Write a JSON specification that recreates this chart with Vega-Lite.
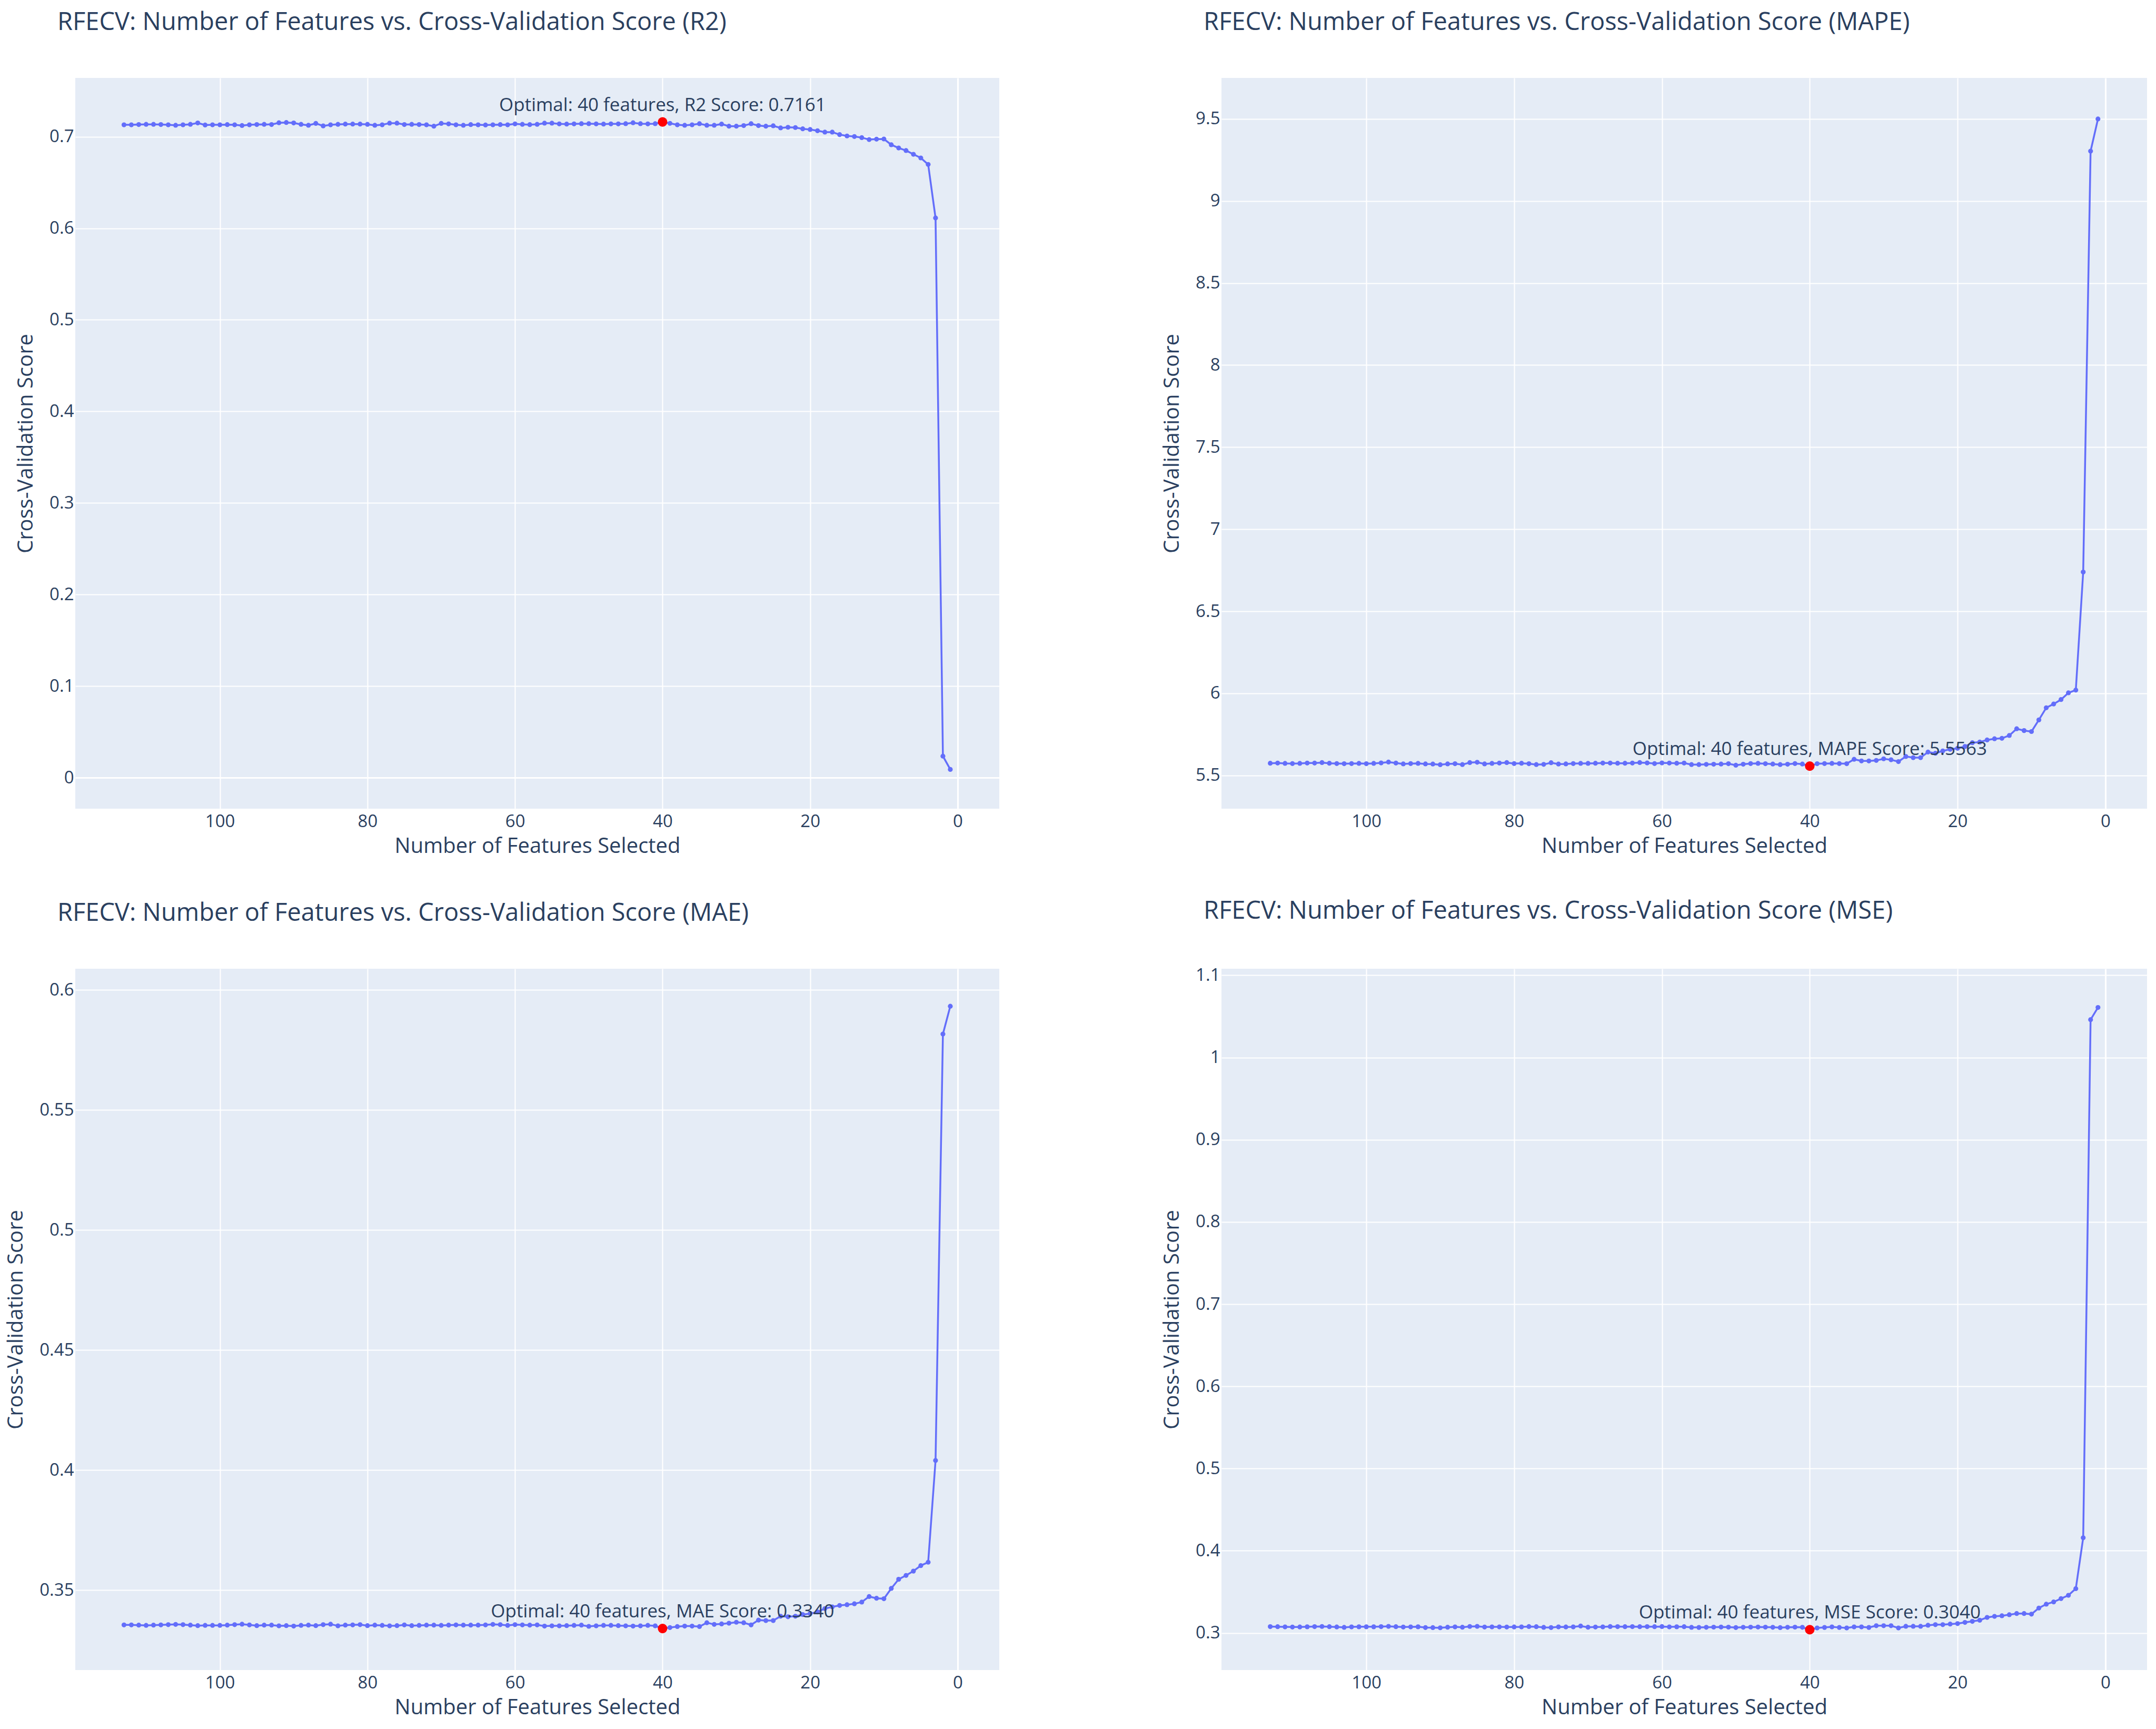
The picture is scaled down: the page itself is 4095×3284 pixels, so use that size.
{
"$schema": "https://vega.github.io/schema/vega-lite/v6.json",
"background": "white",
"padding": {"left": 10, "top": 19, "right": 5, "bottom": 20},
"bounds": "flush",
"columns": 2,
"spacing": {"row": 304, "column": 422},
"config": {
  "view": {"fill": "#E5ECF6", "stroke": null},
  "font": "Open Sans",
  "title": {"fontSize": 47, "fontWeight": "normal", "color": "#2a3f5f", "anchor": "start", "frame": "group", "baseline": "alphabetic", "offset": 81, "dx": -34, "font": "Open Sans"},
  "axis": {"domain": false, "ticks": false, "grid": true, "gridColor": "white", "gridWidth": {"condition": {"test": "datum.value === 0", "value": 3.2}, "value": 2.2}, "labelFontSize": 33, "labelColor": "#2a3f5f", "titleFontSize": 40, "titleColor": "#2a3f5f", "titleFontWeight": "normal", "labelFont": "Open Sans", "titleFont": "Open Sans"},
  "axisX": {"labelPadding": 8, "titlePadding": 10},
  "axisY": {"labelPadding": 3, "titlePadding": 24}
},
"datasets": {
"opt": [
 {"m":"R2","n":40,"s":0.7161,"label":"Optimal: 40 features, R2 Score: 0.7161"},
 {"m":"MAPE","n":40,"s":5.5563,"label":"Optimal: 40 features, MAPE Score: 5.5563"},
 {"m":"MAE","n":40,"s":0.3340,"label":"Optimal: 40 features, MAE Score: 0.3340"},
 {"m":"MSE","n":40,"s":0.3040,"label":"Optimal: 40 features, MSE Score: 0.3040"}
],
"rfecv": [
{"m":"R2","n":113,"s":0.7130},{"m":"R2","n":112,"s":0.7130},{"m":"R2","n":111,"s":0.7133},{"m":"R2","n":110,"s":0.7135},{"m":"R2","n":109,"s":0.7135},{"m":"R2","n":108,"s":0.7133},{"m":"R2","n":107,"s":0.7130},{"m":"R2","n":106,"s":0.7125},{"m":"R2","n":105,"s":0.7130},{"m":"R2","n":104,"s":0.7135},{"m":"R2","n":103,"s":0.7150},{"m":"R2","n":102,"s":0.7128},{"m":"R2","n":101,"s":0.7130},{"m":"R2","n":100,"s":0.7130},{"m":"R2","n":99,"s":0.7132},{"m":"R2","n":98,"s":0.7130},{"m":"R2","n":97,"s":0.7122},{"m":"R2","n":96,"s":0.7130},{"m":"R2","n":95,"s":0.7133},{"m":"R2","n":94,"s":0.7135},{"m":"R2","n":93,"s":0.7133},{"m":"R2","n":92,"s":0.7152},{"m":"R2","n":91,"s":0.7155},{"m":"R2","n":90,"s":0.7150},{"m":"R2","n":89,"s":0.7135},{"m":"R2","n":88,"s":0.7125},{"m":"R2","n":87,"s":0.7145},{"m":"R2","n":86,"s":0.7118},{"m":"R2","n":85,"s":0.7130},{"m":"R2","n":84,"s":0.7135},{"m":"R2","n":83,"s":0.7138},{"m":"R2","n":82,"s":0.7138},{"m":"R2","n":81,"s":0.7138},{"m":"R2","n":80,"s":0.7135},{"m":"R2","n":79,"s":0.7125},{"m":"R2","n":78,"s":0.7130},{"m":"R2","n":77,"s":0.7148},{"m":"R2","n":76,"s":0.7148},{"m":"R2","n":75,"s":0.7133},{"m":"R2","n":74,"s":0.7135},{"m":"R2","n":73,"s":0.7133},{"m":"R2","n":72,"s":0.7130},{"m":"R2","n":71,"s":0.7115},{"m":"R2","n":70,"s":0.7145},{"m":"R2","n":69,"s":0.7140},{"m":"R2","n":68,"s":0.7130},{"m":"R2","n":67,"s":0.7125},{"m":"R2","n":66,"s":0.7132},{"m":"R2","n":65,"s":0.7130},{"m":"R2","n":64,"s":0.7128},{"m":"R2","n":63,"s":0.7130},{"m":"R2","n":62,"s":0.7132},{"m":"R2","n":61,"s":0.7130},{"m":"R2","n":60,"s":0.7140},{"m":"R2","n":59,"s":0.7135},{"m":"R2","n":58,"s":0.7132},{"m":"R2","n":57,"s":0.7135},{"m":"R2","n":56,"s":0.7148},{"m":"R2","n":55,"s":0.7148},{"m":"R2","n":54,"s":0.7140},{"m":"R2","n":53,"s":0.7138},{"m":"R2","n":52,"s":0.7140},{"m":"R2","n":51,"s":0.7142},{"m":"R2","n":50,"s":0.7142},{"m":"R2","n":49,"s":0.7140},{"m":"R2","n":48,"s":0.7138},{"m":"R2","n":47,"s":0.7140},{"m":"R2","n":46,"s":0.7140},{"m":"R2","n":45,"s":0.7142},{"m":"R2","n":44,"s":0.7152},{"m":"R2","n":43,"s":0.7142},{"m":"R2","n":42,"s":0.7140},{"m":"R2","n":41,"s":0.7142},{"m":"R2","n":40,"s":0.7161},{"m":"R2","n":39,"s":0.7146},{"m":"R2","n":38,"s":0.7130},{"m":"R2","n":37,"s":0.7125},{"m":"R2","n":36,"s":0.7130},{"m":"R2","n":35,"s":0.7142},{"m":"R2","n":34,"s":0.7125},{"m":"R2","n":33,"s":0.7125},{"m":"R2","n":32,"s":0.7138},{"m":"R2","n":31,"s":0.7115},{"m":"R2","n":30,"s":0.7115},{"m":"R2","n":29,"s":0.7121},{"m":"R2","n":28,"s":0.7142},{"m":"R2","n":27,"s":0.7121},{"m":"R2","n":26,"s":0.7115},{"m":"R2","n":25,"s":0.7119},{"m":"R2","n":24,"s":0.7096},{"m":"R2","n":23,"s":0.7103},{"m":"R2","n":22,"s":0.7100},{"m":"R2","n":21,"s":0.7086},{"m":"R2","n":20,"s":0.7079},{"m":"R2","n":19,"s":0.7065},{"m":"R2","n":18,"s":0.7050},{"m":"R2","n":17,"s":0.7050},{"m":"R2","n":16,"s":0.7023},{"m":"R2","n":15,"s":0.7008},{"m":"R2","n":14,"s":0.7002},{"m":"R2","n":13,"s":0.6990},{"m":"R2","n":12,"s":0.6969},{"m":"R2","n":11,"s":0.6973},{"m":"R2","n":10,"s":0.6975},{"m":"R2","n":9,"s":0.6912},{"m":"R2","n":8,"s":0.6877},{"m":"R2","n":7,"s":0.6849},{"m":"R2","n":6,"s":0.6808},{"m":"R2","n":5,"s":0.6768},{"m":"R2","n":4,"s":0.6697},{"m":"R2","n":3,"s":0.6113},{"m":"R2","n":2,"s":0.0235},{"m":"R2","n":1,"s":0.0090},
{"m":"MAPE","n":113,"s":5.574},{"m":"MAPE","n":112,"s":5.575},{"m":"MAPE","n":111,"s":5.573},{"m":"MAPE","n":110,"s":5.572},{"m":"MAPE","n":109,"s":5.573},{"m":"MAPE","n":108,"s":5.575},{"m":"MAPE","n":107,"s":5.575},{"m":"MAPE","n":106,"s":5.578},{"m":"MAPE","n":105,"s":5.574},{"m":"MAPE","n":104,"s":5.572},{"m":"MAPE","n":103,"s":5.571},{"m":"MAPE","n":102,"s":5.572},{"m":"MAPE","n":101,"s":5.573},{"m":"MAPE","n":100,"s":5.571},{"m":"MAPE","n":99,"s":5.573},{"m":"MAPE","n":98,"s":5.576},{"m":"MAPE","n":97,"s":5.581},{"m":"MAPE","n":96,"s":5.575},{"m":"MAPE","n":95,"s":5.570},{"m":"MAPE","n":94,"s":5.572},{"m":"MAPE","n":93,"s":5.573},{"m":"MAPE","n":92,"s":5.570},{"m":"MAPE","n":91,"s":5.569},{"m":"MAPE","n":90,"s":5.565},{"m":"MAPE","n":89,"s":5.570},{"m":"MAPE","n":88,"s":5.571},{"m":"MAPE","n":87,"s":5.566},{"m":"MAPE","n":86,"s":5.578},{"m":"MAPE","n":85,"s":5.580},{"m":"MAPE","n":84,"s":5.570},{"m":"MAPE","n":83,"s":5.573},{"m":"MAPE","n":82,"s":5.575},{"m":"MAPE","n":81,"s":5.578},{"m":"MAPE","n":80,"s":5.572},{"m":"MAPE","n":79,"s":5.574},{"m":"MAPE","n":78,"s":5.571},{"m":"MAPE","n":77,"s":5.566},{"m":"MAPE","n":76,"s":5.567},{"m":"MAPE","n":75,"s":5.577},{"m":"MAPE","n":74,"s":5.569},{"m":"MAPE","n":73,"s":5.570},{"m":"MAPE","n":72,"s":5.572},{"m":"MAPE","n":71,"s":5.573},{"m":"MAPE","n":70,"s":5.573},{"m":"MAPE","n":69,"s":5.574},{"m":"MAPE","n":68,"s":5.575},{"m":"MAPE","n":67,"s":5.575},{"m":"MAPE","n":66,"s":5.574},{"m":"MAPE","n":65,"s":5.574},{"m":"MAPE","n":64,"s":5.575},{"m":"MAPE","n":63,"s":5.578},{"m":"MAPE","n":62,"s":5.576},{"m":"MAPE","n":61,"s":5.572},{"m":"MAPE","n":60,"s":5.576},{"m":"MAPE","n":59,"s":5.575},{"m":"MAPE","n":58,"s":5.574},{"m":"MAPE","n":57,"s":5.575},{"m":"MAPE","n":56,"s":5.566},{"m":"MAPE","n":55,"s":5.566},{"m":"MAPE","n":54,"s":5.567},{"m":"MAPE","n":53,"s":5.568},{"m":"MAPE","n":52,"s":5.569},{"m":"MAPE","n":51,"s":5.571},{"m":"MAPE","n":50,"s":5.562},{"m":"MAPE","n":49,"s":5.568},{"m":"MAPE","n":48,"s":5.572},{"m":"MAPE","n":47,"s":5.573},{"m":"MAPE","n":46,"s":5.571},{"m":"MAPE","n":45,"s":5.569},{"m":"MAPE","n":44,"s":5.566},{"m":"MAPE","n":43,"s":5.568},{"m":"MAPE","n":42,"s":5.572},{"m":"MAPE","n":41,"s":5.569},{"m":"MAPE","n":40,"s":5.5563},{"m":"MAPE","n":39,"s":5.571},{"m":"MAPE","n":38,"s":5.572},{"m":"MAPE","n":37,"s":5.573},{"m":"MAPE","n":36,"s":5.572},{"m":"MAPE","n":35,"s":5.571},{"m":"MAPE","n":34,"s":5.598},{"m":"MAPE","n":33,"s":5.588},{"m":"MAPE","n":32,"s":5.588},{"m":"MAPE","n":31,"s":5.591},{"m":"MAPE","n":30,"s":5.601},{"m":"MAPE","n":29,"s":5.595},{"m":"MAPE","n":28,"s":5.584},{"m":"MAPE","n":27,"s":5.615},{"m":"MAPE","n":26,"s":5.608},{"m":"MAPE","n":25,"s":5.608},{"m":"MAPE","n":24,"s":5.642},{"m":"MAPE","n":23,"s":5.635},{"m":"MAPE","n":22,"s":5.649},{"m":"MAPE","n":21,"s":5.659},{"m":"MAPE","n":20,"s":5.665},{"m":"MAPE","n":19,"s":5.676},{"m":"MAPE","n":18,"s":5.699},{"m":"MAPE","n":17,"s":5.703},{"m":"MAPE","n":16,"s":5.716},{"m":"MAPE","n":15,"s":5.723},{"m":"MAPE","n":14,"s":5.726},{"m":"MAPE","n":13,"s":5.743},{"m":"MAPE","n":12,"s":5.784},{"m":"MAPE","n":11,"s":5.773},{"m":"MAPE","n":10,"s":5.767},{"m":"MAPE","n":9,"s":5.838},{"m":"MAPE","n":8,"s":5.912},{"m":"MAPE","n":7,"s":5.935},{"m":"MAPE","n":6,"s":5.962},{"m":"MAPE","n":5,"s":6.003},{"m":"MAPE","n":4,"s":6.020},{"m":"MAPE","n":3,"s":6.739},{"m":"MAPE","n":2,"s":9.304},{"m":"MAPE","n":1,"s":9.500},
{"m":"MAE","n":113,"s":0.3355},{"m":"MAE","n":112,"s":0.3355},{"m":"MAE","n":111,"s":0.3354},{"m":"MAE","n":110,"s":0.3353},{"m":"MAE","n":109,"s":0.3354},{"m":"MAE","n":108,"s":0.3355},{"m":"MAE","n":107,"s":0.3356},{"m":"MAE","n":106,"s":0.3357},{"m":"MAE","n":105,"s":0.3356},{"m":"MAE","n":104,"s":0.3354},{"m":"MAE","n":103,"s":0.3352},{"m":"MAE","n":102,"s":0.3353},{"m":"MAE","n":101,"s":0.3353},{"m":"MAE","n":100,"s":0.3353},{"m":"MAE","n":99,"s":0.3354},{"m":"MAE","n":98,"s":0.3356},{"m":"MAE","n":97,"s":0.3358},{"m":"MAE","n":96,"s":0.3355},{"m":"MAE","n":95,"s":0.3352},{"m":"MAE","n":94,"s":0.3354},{"m":"MAE","n":93,"s":0.3354},{"m":"MAE","n":92,"s":0.3351},{"m":"MAE","n":91,"s":0.3352},{"m":"MAE","n":90,"s":0.3350},{"m":"MAE","n":89,"s":0.3353},{"m":"MAE","n":88,"s":0.3354},{"m":"MAE","n":87,"s":0.3352},{"m":"MAE","n":86,"s":0.3356},{"m":"MAE","n":85,"s":0.3358},{"m":"MAE","n":84,"s":0.3351},{"m":"MAE","n":83,"s":0.3354},{"m":"MAE","n":82,"s":0.3355},{"m":"MAE","n":81,"s":0.3356},{"m":"MAE","n":80,"s":0.3352},{"m":"MAE","n":79,"s":0.3354},{"m":"MAE","n":78,"s":0.3353},{"m":"MAE","n":77,"s":0.3351},{"m":"MAE","n":76,"s":0.3352},{"m":"MAE","n":75,"s":0.3355},{"m":"MAE","n":74,"s":0.3352},{"m":"MAE","n":73,"s":0.3353},{"m":"MAE","n":72,"s":0.3354},{"m":"MAE","n":71,"s":0.3354},{"m":"MAE","n":70,"s":0.3353},{"m":"MAE","n":69,"s":0.3354},{"m":"MAE","n":68,"s":0.3355},{"m":"MAE","n":67,"s":0.3354},{"m":"MAE","n":66,"s":0.3354},{"m":"MAE","n":65,"s":0.3354},{"m":"MAE","n":64,"s":0.3355},{"m":"MAE","n":63,"s":0.3357},{"m":"MAE","n":62,"s":0.3356},{"m":"MAE","n":61,"s":0.3353},{"m":"MAE","n":60,"s":0.3356},{"m":"MAE","n":59,"s":0.3355},{"m":"MAE","n":58,"s":0.3354},{"m":"MAE","n":57,"s":0.3355},{"m":"MAE","n":56,"s":0.3350},{"m":"MAE","n":55,"s":0.3351},{"m":"MAE","n":54,"s":0.3351},{"m":"MAE","n":53,"s":0.3352},{"m":"MAE","n":52,"s":0.3353},{"m":"MAE","n":51,"s":0.3354},{"m":"MAE","n":50,"s":0.3349},{"m":"MAE","n":49,"s":0.3351},{"m":"MAE","n":48,"s":0.3353},{"m":"MAE","n":47,"s":0.3353},{"m":"MAE","n":46,"s":0.3352},{"m":"MAE","n":45,"s":0.3351},{"m":"MAE","n":44,"s":0.3350},{"m":"MAE","n":43,"s":0.3351},{"m":"MAE","n":42,"s":0.3353},{"m":"MAE","n":41,"s":0.3351},{"m":"MAE","n":40,"s":0.3340},{"m":"MAE","n":39,"s":0.3344},{"m":"MAE","n":38,"s":0.3348},{"m":"MAE","n":37,"s":0.3350},{"m":"MAE","n":36,"s":0.3350},{"m":"MAE","n":35,"s":0.3348},{"m":"MAE","n":34,"s":0.3364},{"m":"MAE","n":33,"s":0.3357},{"m":"MAE","n":32,"s":0.3359},{"m":"MAE","n":31,"s":0.3362},{"m":"MAE","n":30,"s":0.3366},{"m":"MAE","n":29,"s":0.3364},{"m":"MAE","n":28,"s":0.3355},{"m":"MAE","n":27,"s":0.3375},{"m":"MAE","n":26,"s":0.3373},{"m":"MAE","n":25,"s":0.3373},{"m":"MAE","n":24,"s":0.3391},{"m":"MAE","n":23,"s":0.3389},{"m":"MAE","n":22,"s":0.3391},{"m":"MAE","n":21,"s":0.3398},{"m":"MAE","n":20,"s":0.3402},{"m":"MAE","n":19,"s":0.3409},{"m":"MAE","n":18,"s":0.3423},{"m":"MAE","n":17,"s":0.3430},{"m":"MAE","n":16,"s":0.3436},{"m":"MAE","n":15,"s":0.3439},{"m":"MAE","n":14,"s":0.3443},{"m":"MAE","n":13,"s":0.3450},{"m":"MAE","n":12,"s":0.3473},{"m":"MAE","n":11,"s":0.3466},{"m":"MAE","n":10,"s":0.3464},{"m":"MAE","n":9,"s":0.3507},{"m":"MAE","n":8,"s":0.3545},{"m":"MAE","n":7,"s":0.3561},{"m":"MAE","n":6,"s":0.3579},{"m":"MAE","n":5,"s":0.3602},{"m":"MAE","n":4,"s":0.3616},{"m":"MAE","n":3,"s":0.4040},{"m":"MAE","n":2,"s":0.5816},{"m":"MAE","n":1,"s":0.5932},
{"m":"MSE","n":113,"s":0.3077},{"m":"MSE","n":112,"s":0.3076},{"m":"MSE","n":111,"s":0.3074},{"m":"MSE","n":110,"s":0.3072},{"m":"MSE","n":109,"s":0.3073},{"m":"MSE","n":108,"s":0.3075},{"m":"MSE","n":107,"s":0.3077},{"m":"MSE","n":106,"s":0.3079},{"m":"MSE","n":105,"s":0.3076},{"m":"MSE","n":104,"s":0.3073},{"m":"MSE","n":103,"s":0.3068},{"m":"MSE","n":102,"s":0.3074},{"m":"MSE","n":101,"s":0.3075},{"m":"MSE","n":100,"s":0.3075},{"m":"MSE","n":99,"s":0.3075},{"m":"MSE","n":98,"s":0.3077},{"m":"MSE","n":97,"s":0.3080},{"m":"MSE","n":96,"s":0.3076},{"m":"MSE","n":95,"s":0.3072},{"m":"MSE","n":94,"s":0.3074},{"m":"MSE","n":93,"s":0.3075},{"m":"MSE","n":92,"s":0.3066},{"m":"MSE","n":91,"s":0.3065},{"m":"MSE","n":90,"s":0.3063},{"m":"MSE","n":89,"s":0.3070},{"m":"MSE","n":88,"s":0.3074},{"m":"MSE","n":87,"s":0.3070},{"m":"MSE","n":86,"s":0.3079},{"m":"MSE","n":85,"s":0.3080},{"m":"MSE","n":84,"s":0.3072},{"m":"MSE","n":83,"s":0.3074},{"m":"MSE","n":82,"s":0.3074},{"m":"MSE","n":81,"s":0.3072},{"m":"MSE","n":80,"s":0.3073},{"m":"MSE","n":79,"s":0.3074},{"m":"MSE","n":78,"s":0.3078},{"m":"MSE","n":77,"s":0.3076},{"m":"MSE","n":76,"s":0.3068},{"m":"MSE","n":75,"s":0.3066},{"m":"MSE","n":74,"s":0.3074},{"m":"MSE","n":73,"s":0.3073},{"m":"MSE","n":72,"s":0.3074},{"m":"MSE","n":71,"s":0.3084},{"m":"MSE","n":70,"s":0.3070},{"m":"MSE","n":69,"s":0.3072},{"m":"MSE","n":68,"s":0.3074},{"m":"MSE","n":67,"s":0.3078},{"m":"MSE","n":66,"s":0.3077},{"m":"MSE","n":65,"s":0.3076},{"m":"MSE","n":64,"s":0.3077},{"m":"MSE","n":63,"s":0.3076},{"m":"MSE","n":62,"s":0.3077},{"m":"MSE","n":61,"s":0.3076},{"m":"MSE","n":60,"s":0.3078},{"m":"MSE","n":59,"s":0.3074},{"m":"MSE","n":58,"s":0.3075},{"m":"MSE","n":57,"s":0.3076},{"m":"MSE","n":56,"s":0.3068},{"m":"MSE","n":55,"s":0.3067},{"m":"MSE","n":54,"s":0.3069},{"m":"MSE","n":53,"s":0.3071},{"m":"MSE","n":52,"s":0.3072},{"m":"MSE","n":51,"s":0.3071},{"m":"MSE","n":50,"s":0.3066},{"m":"MSE","n":49,"s":0.3069},{"m":"MSE","n":48,"s":0.3071},{"m":"MSE","n":47,"s":0.3072},{"m":"MSE","n":46,"s":0.3071},{"m":"MSE","n":45,"s":0.3069},{"m":"MSE","n":44,"s":0.3065},{"m":"MSE","n":43,"s":0.3069},{"m":"MSE","n":42,"s":0.3071},{"m":"MSE","n":41,"s":0.3069},{"m":"MSE","n":40,"s":0.3040},{"m":"MSE","n":39,"s":0.3061},{"m":"MSE","n":38,"s":0.3067},{"m":"MSE","n":37,"s":0.3074},{"m":"MSE","n":36,"s":0.3067},{"m":"MSE","n":35,"s":0.3061},{"m":"MSE","n":34,"s":0.3074},{"m":"MSE","n":33,"s":0.3074},{"m":"MSE","n":32,"s":0.3067},{"m":"MSE","n":31,"s":0.3088},{"m":"MSE","n":30,"s":0.3088},{"m":"MSE","n":29,"s":0.3088},{"m":"MSE","n":28,"s":0.3061},{"m":"MSE","n":27,"s":0.3081},{"m":"MSE","n":26,"s":0.3081},{"m":"MSE","n":25,"s":0.3081},{"m":"MSE","n":24,"s":0.3094},{"m":"MSE","n":23,"s":0.3101},{"m":"MSE","n":22,"s":0.3101},{"m":"MSE","n":21,"s":0.3108},{"m":"MSE","n":20,"s":0.3114},{"m":"MSE","n":19,"s":0.3128},{"m":"MSE","n":18,"s":0.3141},{"m":"MSE","n":17,"s":0.3155},{"m":"MSE","n":16,"s":0.3189},{"m":"MSE","n":15,"s":0.3202},{"m":"MSE","n":14,"s":0.3209},{"m":"MSE","n":13,"s":0.3222},{"m":"MSE","n":12,"s":0.3236},{"m":"MSE","n":11,"s":0.3236},{"m":"MSE","n":10,"s":0.3229},{"m":"MSE","n":9,"s":0.3303},{"m":"MSE","n":8,"s":0.3350},{"m":"MSE","n":7,"s":0.3377},{"m":"MSE","n":6,"s":0.3418},{"m":"MSE","n":5,"s":0.3458},{"m":"MSE","n":4,"s":0.3539},{"m":"MSE","n":3,"s":0.4158},{"m":"MSE","n":2,"s":1.0461},{"m":"MSE","n":1,"s":1.0609}
]
},
"concat": [
{
 "width": 1755, "height": 1388,
 "title": "RFECV: Number of Features vs. Cross-Validation Score (R2)",
 "encoding": {
  "x": {"field": "n", "type": "quantitative", "title": "Number of Features Selected", "scale": {"domain": [-5.64, 119.6], "reverse": true, "nice": false, "zero": false}, "axis": {"values": [0, 20, 40, 60, 80, 100], "format": "d"}},
  "y": {"field": "s", "type": "quantitative", "title": "Cross-Validation Score", "scale": {"domain": [-0.0339, 0.7642], "nice": false, "zero": false}, "axis": {"values": [0, 0.1, 0.2, 0.3, 0.4, 0.5, 0.6, 0.7], "format": "~g"}}
 },
 "layer": [
  {"data": {"name": "rfecv"}, "transform": [{"filter": "datum.m === 'R2'"}], "mark": {"type": "line", "color": "#636efa", "strokeWidth": 3.5, "point": {"filled": true, "size": 85, "color": "#636efa", "opacity": 1}}},
  {"data": {"name": "opt"}, "transform": [{"filter": "datum.m === 'R2'"}], "mark": {"type": "point", "filled": true, "size": 330, "color": "red", "opacity": 1}},
  {"data": {"name": "opt"}, "transform": [{"filter": "datum.m === 'R2'"}], "mark": {"type": "text", "dy": -21, "baseline": "alphabetic", "align": "center", "fontSize": 35, "color": "#2a3f5f", "font": "Open Sans"}, "encoding": {"text": {"field": "label"}}}
 ]
},
{
 "width": 1758, "height": 1388,
 "title": "RFECV: Number of Features vs. Cross-Validation Score (MAPE)",
 "encoding": {
  "x": {"field": "n", "type": "quantitative", "title": "Number of Features Selected", "scale": {"domain": [-5.64, 119.6], "reverse": true, "nice": false, "zero": false}, "axis": {"values": [0, 20, 40, 60, 80, 100], "format": "d"}},
  "y": {"field": "s", "type": "quantitative", "title": "Cross-Validation Score", "scale": {"domain": [5.297, 9.75], "nice": false, "zero": false}, "axis": {"values": [5.5, 6, 6.5, 7, 7.5, 8, 8.5, 9, 9.5], "format": "~g"}}
 },
 "layer": [
  {"data": {"name": "rfecv"}, "transform": [{"filter": "datum.m === 'MAPE'"}], "mark": {"type": "line", "color": "#636efa", "strokeWidth": 3.5, "point": {"filled": true, "size": 85, "color": "#636efa", "opacity": 1}}},
  {"data": {"name": "opt"}, "transform": [{"filter": "datum.m === 'MAPE'"}], "mark": {"type": "point", "filled": true, "size": 330, "color": "red", "opacity": 1}},
  {"data": {"name": "opt"}, "transform": [{"filter": "datum.m === 'MAPE'"}], "mark": {"type": "text", "dy": -21, "baseline": "alphabetic", "align": "center", "fontSize": 35, "color": "#2a3f5f", "font": "Open Sans"}, "encoding": {"text": {"field": "label"}}}
 ]
},
{
 "width": 1755, "height": 1332,
 "title": "RFECV: Number of Features vs. Cross-Validation Score (MAE)",
 "encoding": {
  "x": {"field": "n", "type": "quantitative", "title": "Number of Features Selected", "scale": {"domain": [-5.64, 119.6], "reverse": true, "nice": false, "zero": false}, "axis": {"values": [0, 20, 40, 60, 80, 100], "format": "d"}},
  "y": {"field": "s", "type": "quantitative", "title": "Cross-Validation Score", "scale": {"domain": [0.3167, 0.6088], "nice": false, "zero": false}, "axis": {"values": [0.35, 0.4, 0.45, 0.5, 0.55, 0.6], "format": "~g"}}
 },
 "layer": [
  {"data": {"name": "rfecv"}, "transform": [{"filter": "datum.m === 'MAE'"}], "mark": {"type": "line", "color": "#636efa", "strokeWidth": 3.5, "point": {"filled": true, "size": 85, "color": "#636efa", "opacity": 1}}},
  {"data": {"name": "opt"}, "transform": [{"filter": "datum.m === 'MAE'"}], "mark": {"type": "point", "filled": true, "size": 330, "color": "red", "opacity": 1}},
  {"data": {"name": "opt"}, "transform": [{"filter": "datum.m === 'MAE'"}], "mark": {"type": "text", "dy": -21, "baseline": "alphabetic", "align": "center", "fontSize": 35, "color": "#2a3f5f", "font": "Open Sans"}, "encoding": {"text": {"field": "label"}}}
 ]
},
{
 "width": 1758, "height": 1332,
 "title": "RFECV: Number of Features vs. Cross-Validation Score (MSE)",
 "encoding": {
  "x": {"field": "n", "type": "quantitative", "title": "Number of Features Selected", "scale": {"domain": [-5.64, 119.6], "reverse": true, "nice": false, "zero": false}, "axis": {"values": [0, 20, 40, 60, 80, 100], "format": "d"}},
  "y": {"field": "s", "type": "quantitative", "title": "Cross-Validation Score", "scale": {"domain": [0.2549, 1.108], "nice": false, "zero": false}, "axis": {"values": [0.3, 0.4, 0.5, 0.6, 0.7, 0.8, 0.9, 1, 1.1], "format": "~g"}}
 },
 "layer": [
  {"data": {"name": "rfecv"}, "transform": [{"filter": "datum.m === 'MSE'"}], "mark": {"type": "line", "color": "#636efa", "strokeWidth": 3.5, "point": {"filled": true, "size": 85, "color": "#636efa", "opacity": 1}}},
  {"data": {"name": "opt"}, "transform": [{"filter": "datum.m === 'MSE'"}], "mark": {"type": "point", "filled": true, "size": 330, "color": "red", "opacity": 1}},
  {"data": {"name": "opt"}, "transform": [{"filter": "datum.m === 'MSE'"}], "mark": {"type": "text", "dy": -21, "baseline": "alphabetic", "align": "center", "fontSize": 35, "color": "#2a3f5f", "font": "Open Sans"}, "encoding": {"text": {"field": "label"}}}
 ]
}
]
}
